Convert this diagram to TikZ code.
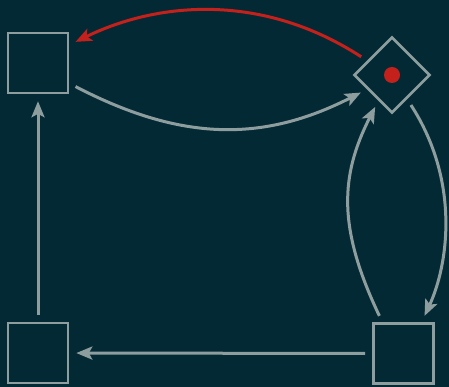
\documentclass[tikz,border=0pt]{standalone}
\usetikzlibrary{arrows.meta,shapes.geometric}
\definecolor{bg}{RGB}{3,42,52}
\definecolor{edge}{RGB}{142,158,158}
\definecolor{hot}{RGB}{196,32,28}
\tikzset{
  box/.style={draw=edge, line width=2.6pt, minimum size=60pt, inner sep=0pt},
  gem/.style={diamond, draw=edge, line width=2.6pt, minimum width=76pt, minimum height=76pt, inner sep=0pt},
  link/.style={draw=edge, line width=3pt, shorten <=7pt, shorten >=7pt,
    -{Stealth[length=16pt, width=13pt, inset=3.5pt]}},
  hotlink/.style={link, draw=hot},
}
\begin{document}
\begin{tikzpicture}[x=1pt, y=1pt]
  \fill[bg] (0,0) rectangle (449,387);
  \useasboundingbox (0,0) rectangle (449,387);

  \node[box] (a) at (38,324) {};
  \node[box] (b) at (38,34) {};
  \node[box] (c) at (403.5,33.5) {};
  \node[gem] (d) at (392,312) {};
  \fill[hot] (d.center) circle (8pt);

  % curved links between the diamond and its neighbours
  \draw[hotlink] (d.150) .. controls +(147:124) and +(26:100) .. (a.30);
  \draw[link] (a.-33) .. controls +(-27.5:126) and +(207:117) .. (d.210);
  \draw[link] (d.-58) .. controls +(-57:99) and +(65:62) .. (c.60);
  \draw[link] (c.124) .. controls +(115.5:105) and +(243:84) .. (d.242);

  % straight links along the bottom and left side
  \draw[link] (c) -- (b);
  \draw[link] (b) -- (a);
\end{tikzpicture}
\end{document}
